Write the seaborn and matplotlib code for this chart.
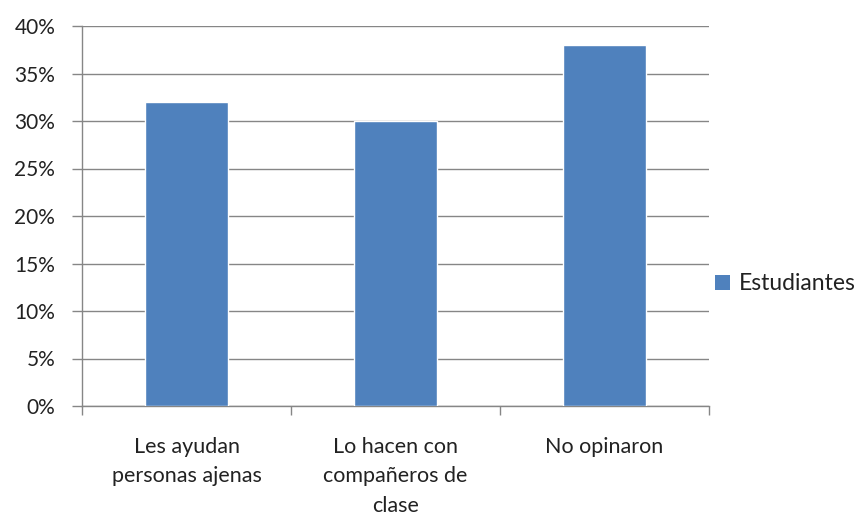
import matplotlib
matplotlib.use("Agg")
import matplotlib.pyplot as plt
import seaborn as sns
import pandas as pd
from matplotlib.ticker import FuncFormatter, FixedLocator
from matplotlib.patches import Patch

categories = ["Les ayudan\npersonas ajenas", "Lo hacen con\ncompañeros de\nclase", "No opinaron"]
values = [32, 30, 38]
series_name = "Estudiantes"
yticks = [0, 5, 10, 15, 20, 25, 30, 35, 40]

sns.set_theme(style="white")
plt.rcParams['font.family'] = ['Lato', 'DejaVu Sans']

df = pd.DataFrame({"cat": categories, "val": values, "serie": series_name})

fig = plt.figure(figsize=(8.63, 5.24), dpi=100)
ax = fig.add_axes([82/863, 1-406/524, (709-82)/863, (406-26)/524])

color = "#4F81BD"
sns.barplot(data=df, x="cat", y="val", color=color, width=0.4, ax=ax,
            saturation=1, zorder=3)

ax.set_ylim(0, 40)
ax.set_xlim(-0.5, 2.5)
ax.set_yticks(yticks)
ax.yaxis.set_major_formatter(FuncFormatter(lambda v, p: f"{int(v)}%"))
ax.grid(axis="y", color="#868686", linewidth=1, zorder=0)
ax.set_axisbelow(True)

for s in ["top", "right"]:
    ax.spines[s].set_visible(False)
for s in ["left", "bottom"]:
    ax.spines[s].set_color("#868686")
    ax.spines[s].set_linewidth(1)

ax.set_xlabel("")
ax.set_ylabel("")

ax.tick_params(axis="y", which="both", length=7.2, color="#868686", width=1,
               labelsize=15, pad=12, labelcolor="#222222", left=True)
ax.tick_params(axis="x", which="major", length=0, labelsize=15.5, pad=22,
               labelcolor="#222222")
for lab in ax.get_xticklabels():
    lab.set_linespacing(1.6)
    lab.set_verticalalignment("top")
ax.xaxis.set_minor_locator(FixedLocator([-0.5, 0.5, 1.5, 2.5]))
ax.tick_params(axis="x", which="minor", length=6.5, color="#868686", width=1,
               bottom=True)

handles = [Patch(facecolor=color, edgecolor="none", label=series_name)]
fig.legend(handles=handles, loc="center left", bbox_to_anchor=(694/863, 1-284/524),
           frameon=False, fontsize=16.5, handlelength=0.65, handleheight=0.65,
           handletextpad=0.4, labelcolor="#222222")

fig.savefig("out.png", dpi=100)
